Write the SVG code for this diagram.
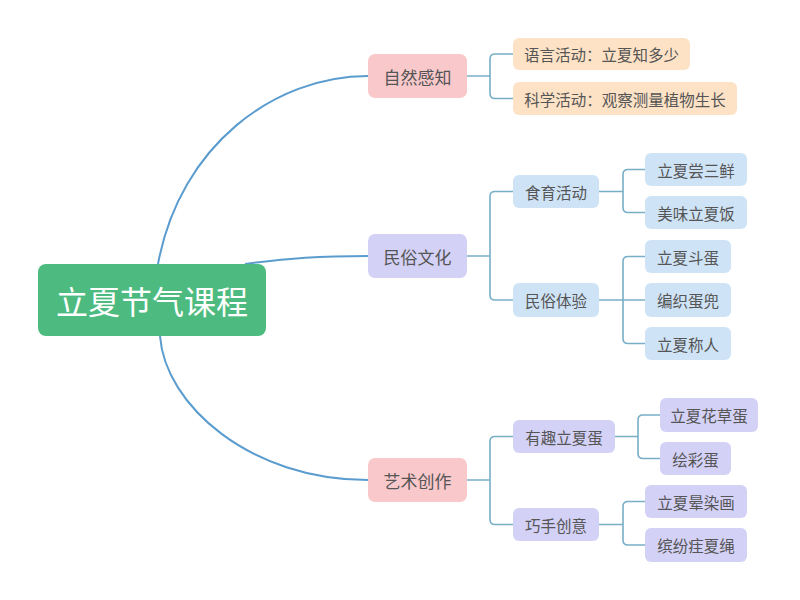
<svg xmlns="http://www.w3.org/2000/svg" width="800" height="600" viewBox="0 0 800 600">
<style>
text{font-family:"Noto Sans CJK SC","Noto Sans",sans-serif;fill:#555;text-anchor:middle;dominant-baseline:central}
.l1{font-size:17px}
.l2{font-size:15.5px}
.root{font-size:32px;fill:#fff}
.pink{fill:#f9c8cb}
.peach{fill:#fde2c6}
.blue{fill:#cfe3f6}
.lav{fill:#d4d1f7}
.main{fill:none;stroke:#5b9ccf;stroke-width:2}
.br{fill:none;stroke:#78aec6;stroke-width:1.6}
</style>
<rect width="800" height="600" fill="#fff"/>
<g id="connectors">
<path class="main" d="M158,264 C180,145 275,76 368,76"/>
<path class="main" d="M245,264 C290,258 320,256 368,256"/>
<path class="main" d="M160,336 C165,405 250,480 368,480"/>
<path class="br" d="M467,76 H490 M513,54 H495 Q490,54 490,59 V93.5 Q490,98.5 495,98.5 H513"/>
<path class="br" d="M467,256 H490 M513,191.5 H495 Q490,191.5 490,196.5 V295 Q490,300 495,300 H513"/>
<path class="br" d="M599,191.5 H623 M645,169.5 H628 Q623,169.5 623,174.5 V207.5 Q623,212.5 628,212.5 H645"/>
<path class="br" d="M599,300 H645 M645,256.5 H628 Q623,256.5 623,261.5 V338.5 Q623,343.5 628,343.5 H645"/>
<path class="br" d="M467,480 H490 M513,436.5 H495 Q490,436.5 490,441.5 V519.5 Q490,524.5 495,524.5 H513"/>
<path class="br" d="M615,436.5 H638 M660,415 H643 Q638,415 638,420 V453.5 Q638,458.5 643,458.5 H660"/>
<path class="br" d="M599,524.5 H623 M645,501.5 H628 Q623,501.5 623,506.5 V540 Q623,545 628,545 H645"/>
</g>
<g id="root"><rect x="38" y="264" width="228" height="72" rx="8" fill="#4dbb7f"/><text class="root" x="152" y="300">立夏节气课程</text></g>
<g id="n-zrgz"><rect class="pink" x="368" y="54" width="99" height="44" rx="7"/><text class="l1" x="417.5" y="76">自然感知</text></g>
<g id="n-yyhd"><rect class="peach" x="513" y="38" width="177" height="32" rx="6"/><text class="l2" x="601.5" y="54">语言活动：立夏知多少</text></g>
<g id="n-kxhd"><rect class="peach" x="513" y="82" width="224" height="33" rx="6"/><text class="l2" x="625" y="98.5">科学活动：观察测量植物生长</text></g>
<g id="n-msw"><rect class="lav" x="368" y="234" width="99" height="44" rx="7"/><text class="l1" x="417.5" y="256">民俗文化</text></g>
<g id="n-syhd"><rect class="blue" x="513" y="175" width="86" height="33" rx="6"/><text class="l2" x="556" y="191.5">食育活动</text></g>
<g id="n-lxcsx"><rect class="blue" x="645" y="153" width="102" height="33" rx="6"/><text class="l2" x="696" y="169.5">立夏尝三鲜</text></g>
<g id="n-mwlxf"><rect class="blue" x="645" y="196" width="102" height="33" rx="6"/><text class="l2" x="696" y="212.5">美味立夏饭</text></g>
<g id="n-mstj"><rect class="blue" x="513" y="283" width="86" height="34" rx="6"/><text class="l2" x="556" y="300">民俗体验</text></g>
<g id="n-lxdd"><rect class="blue" x="645" y="240" width="86" height="33" rx="6"/><text class="l2" x="688" y="256.5">立夏斗蛋</text></g>
<g id="n-bzdd"><rect class="blue" x="645" y="283" width="86" height="34" rx="6"/><text class="l2" x="688" y="300">编织蛋兜</text></g>
<g id="n-lxcr"><rect class="blue" x="645" y="327" width="86" height="33" rx="6"/><text class="l2" x="688" y="343.5">立夏称人</text></g>
<g id="n-yscz"><rect class="pink" x="368" y="458" width="99" height="44" rx="7"/><text class="l1" x="417.5" y="480">艺术创作</text></g>
<g id="n-yqlxd"><rect class="lav" x="513" y="420" width="102" height="33" rx="6"/><text class="l2" x="564" y="436.5">有趣立夏蛋</text></g>
<g id="n-lxhcd"><rect class="lav" x="660" y="398" width="98" height="34" rx="6"/><text class="l2" x="709" y="415">立夏花草蛋</text></g>
<g id="n-hcd"><rect class="lav" x="660" y="442" width="71" height="33" rx="6"/><text class="l2" x="695.5" y="458.5">绘彩蛋</text></g>
<g id="n-qscy"><rect class="lav" x="513" y="508" width="86" height="33" rx="6"/><text class="l2" x="556" y="524.5">巧手创意</text></g>
<g id="n-lxyrh"><rect class="lav" x="645" y="485" width="102" height="33" rx="6"/><text class="l2" x="696" y="501.5">立夏晕染画</text></g>
<g id="n-bfzxs"><rect class="lav" x="645" y="528" width="102" height="34" rx="6"/><text class="l2" x="696" y="545">缤纷疰夏绳</text></g>
</svg>
